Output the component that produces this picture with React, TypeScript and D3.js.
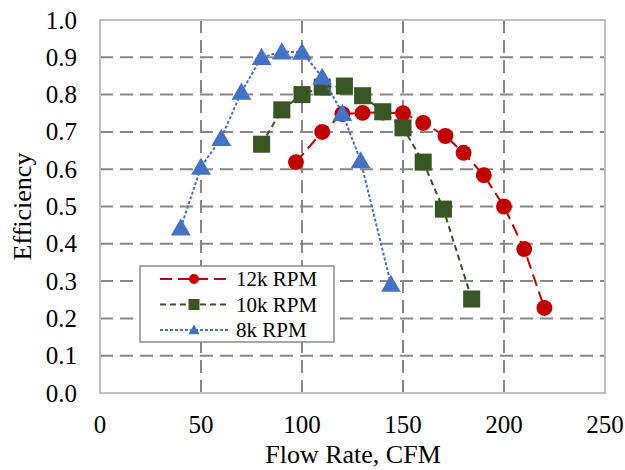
import React, { useEffect, useRef } from "react";
import * as d3 from "d3";

const flow12k = [97, 110, 120, 130, 140, 150, 160, 171, 180, 190, 200, 210, 220];
const eff12k = [0.619, 0.70, 0.748, 0.751, 0.752, 0.75, 0.724, 0.689, 0.644, 0.584, 0.50, 0.386, 0.228];

const flow10k = [80, 90, 100, 110, 121, 130, 140, 150, 160, 170, 184];
const eff10k = [0.667, 0.759, 0.80, 0.82, 0.823, 0.797, 0.754, 0.711, 0.619, 0.493, 0.252];

const flow8k = [40, 50, 60, 70, 80, 90, 100, 110, 120, 129, 144];
const eff8k = [0.443, 0.606, 0.683, 0.807, 0.90, 0.915, 0.914, 0.847, 0.75, 0.623, 0.292];

const xTicks = [0, 50, 100, 150, 200, 250];
const yTicks = [0, 0.1, 0.2, 0.3, 0.4, 0.5, 0.6, 0.7, 0.8, 0.9, 1.0];

const seriesNames = ["12k RPM", "10k RPM", "8k RPM"];
const seriesColors = ["#C00000", "#375623", "#4472C4"];

const App = () => {
  const ref = useRef<SVGSVGElement | null>(null);

  useEffect(() => {
    const margin = { top: 20, bottom: 77, left: 100, right: 20 };
    const W = 625;
    const H = 470;
    const width = W - margin.left - margin.right;
    const height = H - margin.top - margin.bottom;
    const font = "Liberation Serif";

    const svg = d3.select(ref.current);
    svg.selectAll("*").remove();
    svg.attr("width", W).attr("height", H);

    const g = svg.append("g").attr("transform", `translate(${margin.left},${margin.top})`);

    const x = d3.scaleLinear().domain([0, 250]).range([0, width]);
    const y = d3.scaleLinear().domain([0, 1]).range([height, 0]);

    // gridlines
    g.selectAll("line.hgrid")
      .data(yTicks.filter((t) => t > 0 && t < 1))
      .join("line")
      .attr("x1", 0)
      .attr("x2", width)
      .attr("y1", (d) => y(d))
      .attr("y2", (d) => y(d))
      .attr("stroke", "#878787")
      .attr("stroke-width", 2)
      .attr("stroke-dasharray", "13,7");

    g.selectAll("line.vgrid")
      .data(xTicks.filter((t) => t > 0 && t < 250))
      .join("line")
      .attr("x1", (d) => x(d))
      .attr("x2", (d) => x(d))
      .attr("y1", 0)
      .attr("y2", height)
      .attr("stroke", "#878787")
      .attr("stroke-width", 2)
      .attr("stroke-dasharray", "13,7");

    // plot border
    g.append("rect")
      .attr("x", 0)
      .attr("y", 0)
      .attr("width", width)
      .attr("height", height)
      .attr("fill", "none")
      .attr("stroke", "#bfbfbf")
      .attr("stroke-width", 2);

    // tick labels
    g.selectAll("text.ytick")
      .data(yTicks)
      .join("text")
      .attr("x", -23)
      .attr("y", (d) => y(d))
      .attr("dy", "0.34em")
      .attr("text-anchor", "end")
      .attr("font-family", font)
      .attr("font-size", 25)
      .attr("fill", "#000")
      .text((d) => d.toFixed(1));

    g.selectAll("text.xtick")
      .data(xTicks)
      .join("text")
      .attr("x", (d) => x(d))
      .attr("y", height + 40)
      .attr("text-anchor", "middle")
      .attr("font-family", font)
      .attr("font-size", 25)
      .attr("fill", "#000")
      .text((d) => String(d));

    // axis titles
    svg.append("text")
      .attr("x", 353)
      .attr("y", 463)
      .attr("text-anchor", "middle")
      .attr("font-family", font)
      .attr("font-size", 26)
      .text("Flow Rate, CFM");

    svg.append("text")
      .attr("transform", `translate(31,${margin.top + height / 2}) rotate(-90)`)
      .attr("text-anchor", "middle")
      .attr("font-family", font)
      .attr("font-size", 26)
      .text("Efficiency");

    const series = [
      { xs: flow12k, ys: eff12k, dash: "12,6", shape: "circle" },
      { xs: flow10k, ys: eff10k, dash: "6,4", shape: "square" },
      { xs: flow8k, ys: eff8k, dash: "3,2", shape: "triangle" },
    ];

    const symbolFor = (shape: string, big: boolean) => {
      if (shape === "circle") return d3.symbol(d3.symbolCircle, big ? 200 : 78)();
      if (shape === "square") return d3.symbol(d3.symbolSquare, big ? 290 : 121)();
      return d3.symbol(d3.symbolTriangle, big ? 170 : 55)();
    };

    const line = d3
      .line<[number, number]>()
      .x((d) => x(d[0]))
      .y((d) => y(d[1]));

    series.forEach((s, i) => {
      const pts: [number, number][] = s.xs.map((v, j) => [v, s.ys[j]]);
      g.append("path")
        .attr("d", line(pts))
        .attr("fill", "none")
        .attr("stroke", seriesColors[i])
        .attr("stroke-width", 2)
        .attr("stroke-dasharray", s.dash);
      g.selectAll(`path.m${i}`)
        .data(pts)
        .join("path")
        .attr("transform", (d) => `translate(${x(d[0])},${y(d[1]) + (s.shape === "triangle" ? 2 : 0)})`)
        .attr("d", symbolFor(s.shape, true))
        .attr("fill", seriesColors[i]);
    });

    // legend
    const lg = svg.append("g").attr("transform", "translate(140,266)");
    lg.append("rect")
      .attr("width", 194)
      .attr("height", 76)
      .attr("fill", "#fff")
      .attr("stroke", "#8c8c8c")
      .attr("stroke-width", 1.5);
    series.forEach((s, i) => {
      const ry = 13 + i * 25.5;
      lg.append("line")
        .attr("x1", 20)
        .attr("x2", 89)
        .attr("y1", ry)
        .attr("y2", ry)
        .attr("stroke", seriesColors[i])
        .attr("stroke-width", 2)
        .attr("stroke-dasharray", s.dash);
      lg.append("path")
        .attr("transform", `translate(54,${ry + (s.shape === "triangle" ? 1 : 0)})`)
        .attr("d", symbolFor(s.shape, false))
        .attr("fill", seriesColors[i]);
      lg.append("text")
        .attr("x", 96)
        .attr("y", ry)
        .attr("dy", "0.34em")
        .attr("font-family", font)
        .attr("font-size", 21)
        .text(seriesNames[i]);
    });
  }, []);

  return (
    <div>
      <svg ref={ref} style={{ display: "block", position: "absolute", left: 0, top: 0 }}></svg>
    </div>
  );
};

export default App;
